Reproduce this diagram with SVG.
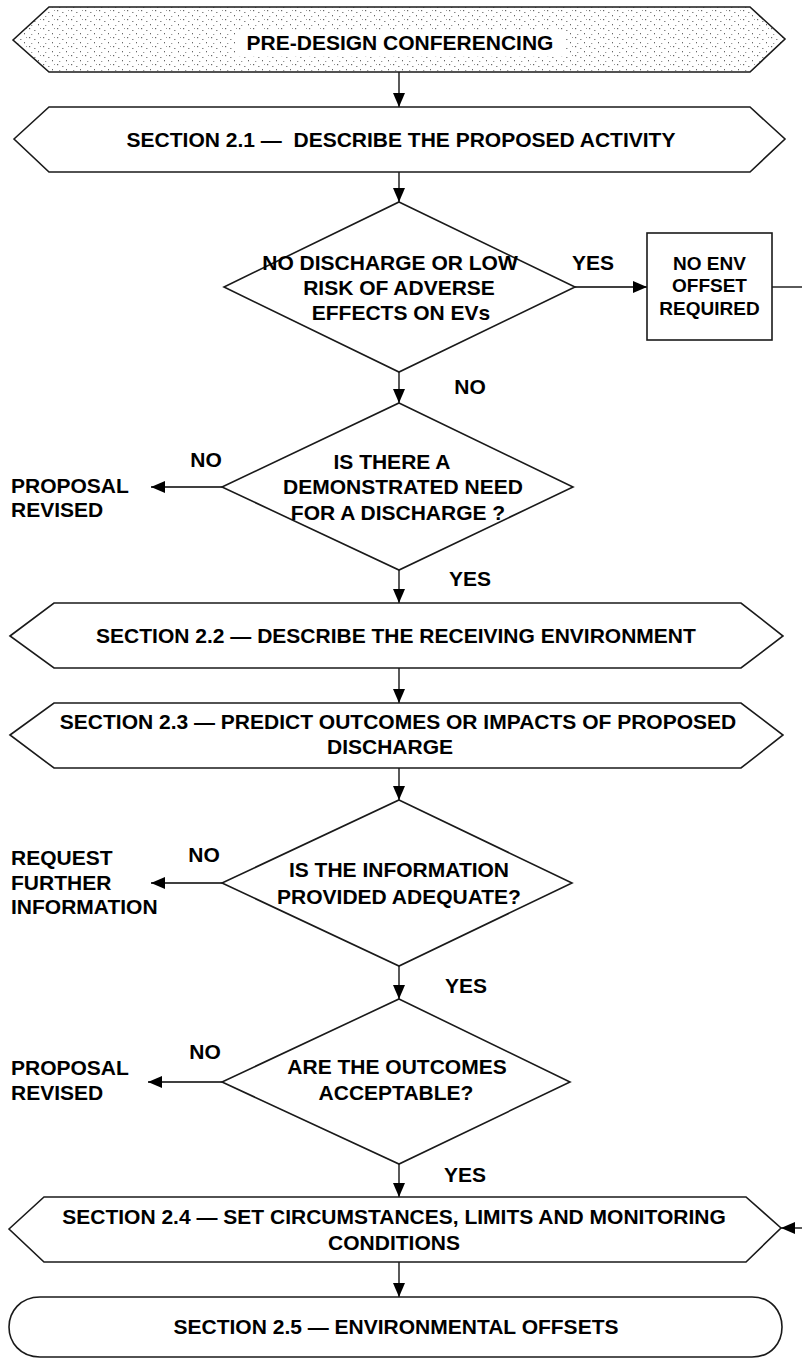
<svg xmlns="http://www.w3.org/2000/svg" width="802" height="1359" viewBox="0 0 802 1359">
<style>
.shape{fill:#fff;stroke:#1a1a1a;stroke-width:1.6}
.conn{fill:none;stroke:#000;stroke-width:1.3}
text{font-family:"Liberation Sans",Arial,sans-serif;font-weight:bold;font-size:21px;fill:#000}
.c{text-anchor:middle}
.s{font-size:19px}
</style>
<defs>
<pattern id="speckle" width="14" height="9" patternUnits="userSpaceOnUse">
<rect width="14" height="9" fill="#fff"/>
<rect x="1" y="1" width="1.2" height="1.2" fill="#666"/>
<rect x="6" y="3" width="1.5" height="1" fill="#888"/>
<rect x="10" y="6" width="1" height="1.3" fill="#666"/>
<rect x="3" y="7" width="1.3" height="1" fill="#999"/>
<rect x="12" y="1" width="1" height="1" fill="#999"/>
</pattern>
<marker id="ah" markerWidth="14" markerHeight="12" refX="14" refY="6" orient="auto" markerUnits="userSpaceOnUse">
<path d="M0,0 L14,6 L0,12 Z" fill="#000"/>
</marker>
</defs>

<g id="connectors">
<line class="conn" x1="399" y1="72" x2="399" y2="107" marker-end="url(#ah)"/>
<line class="conn" x1="399" y1="172" x2="399" y2="202" marker-end="url(#ah)"/>
<line class="conn" x1="575" y1="287" x2="647" y2="287" marker-end="url(#ah)"/>
<line class="conn" x1="772" y1="287" x2="802" y2="287"/>
<line class="conn" x1="399" y1="372" x2="399" y2="403" marker-end="url(#ah)"/>
<line class="conn" x1="222" y1="487" x2="151" y2="487" marker-end="url(#ah)"/>
<line class="conn" x1="399" y1="570" x2="399" y2="603" marker-end="url(#ah)"/>
<line class="conn" x1="399" y1="668" x2="399" y2="703" marker-end="url(#ah)"/>
<line class="conn" x1="399" y1="768" x2="399" y2="800" marker-end="url(#ah)"/>
<line class="conn" x1="222" y1="883" x2="151" y2="883" marker-end="url(#ah)"/>
<line class="conn" x1="399" y1="966" x2="399" y2="999" marker-end="url(#ah)"/>
<line class="conn" x1="222" y1="1082" x2="148" y2="1082" marker-end="url(#ah)"/>
<line class="conn" x1="399" y1="1164" x2="399" y2="1197" marker-end="url(#ah)"/>
<line class="conn" x1="399" y1="1262" x2="399" y2="1297" marker-end="url(#ah)"/>
<line class="conn" x1="802" y1="1228" x2="781" y2="1228" marker-end="url(#ah)"/>
</g>

<g id="predesign">
<path class="shape" style="fill:url(#speckle)" d="M13,40 L49,7 L750,7 L785,39 L750,72 L49,72 Z"/>
<rect x="235" y="30" width="330" height="26" fill="#fff"/>
<text class="c" x="400" y="50">PRE-DESIGN CONFERENCING</text>
</g>

<g id="s21">
<path class="shape" d="M14,139 L49,107 L750,107 L785,139 L750,172 L49,172 Z"/>
<text class="c" x="401" y="147" xml:space="preserve">SECTION 2.1 —  DESCRIBE THE PROPOSED ACTIVITY</text>
</g>

<g id="d1">
<path class="shape" d="M399,202 L575,287 L399,372 L224,287 Z"/>
<text class="c" x="390" y="270">NO DISCHARGE OR LOW</text>
<text class="c" x="399" y="295">RISK OF ADVERSE</text>
<text class="c" x="401" y="320">EFFECTS ON EVs</text>
</g>
<g id="d1-labels">
<text class="c" x="593" y="270">YES</text>
<text class="c" x="470" y="394">NO</text>
</g>

<g id="nooffset">
<rect class="shape" x="647" y="233" width="125" height="107"/>
<text class="c s" x="709.5" y="270">NO ENV</text>
<text class="c s" x="709.5" y="292">OFFSET</text>
<text class="c s" x="709.5" y="315">REQUIRED</text>
</g>

<g id="d2">
<path class="shape" d="M399,403 L573,487 L399,570 L222,487 Z"/>
<text class="c" x="392" y="469">IS THERE A</text>
<text class="c" x="403" y="494">DEMONSTRATED NEED</text>
<text class="c" x="398" y="520">FOR A DISCHARGE ?</text>
</g>
<g id="d2-labels">
<text class="c" x="206" y="467">NO</text>
<text class="c" x="470" y="586">YES</text>
</g>
<g id="revised1">
<text x="11" y="493">PROPOSAL</text>
<text x="11" y="517">REVISED</text>
</g>

<g id="s22">
<path class="shape" d="M10,636 L54,603 L741,603 L783,636 L741,668 L54,668 Z"/>
<text class="c" x="396" y="643">SECTION 2.2 — DESCRIBE THE RECEIVING ENVIRONMENT</text>
</g>

<g id="s23">
<path class="shape" d="M10,735 L54,703 L741,703 L783,735 L741,768 L54,768 Z"/>
<text class="c" x="398" y="729">SECTION 2.3 — PREDICT OUTCOMES OR IMPACTS OF PROPOSED</text>
<text class="c" x="390" y="754">DISCHARGE</text>
</g>

<g id="d3">
<path class="shape" d="M399,800 L572,883 L399,966 L222,883 Z"/>
<text class="c" x="399" y="877">IS THE INFORMATION</text>
<text class="c" x="399" y="904">PROVIDED ADEQUATE?</text>
</g>
<g id="d3-labels">
<text class="c" x="204" y="862">NO</text>
<text class="c" x="466" y="993">YES</text>
</g>
<g id="request">
<text x="11" y="865">REQUEST</text>
<text x="11" y="890">FURTHER</text>
<text x="11" y="914">INFORMATION</text>
</g>

<g id="d4">
<path class="shape" d="M399,999 L570,1082 L399,1164 L222,1082 Z"/>
<text class="c" x="397" y="1074">ARE THE OUTCOMES</text>
<text class="c" x="396" y="1100">ACCEPTABLE?</text>
</g>
<g id="d4-labels">
<text class="c" x="205" y="1059">NO</text>
<text class="c" x="465" y="1182">YES</text>
</g>
<g id="revised2">
<text x="11" y="1075">PROPOSAL</text>
<text x="11" y="1100">REVISED</text>
</g>

<g id="s24">
<path class="shape" d="M9,1229 L44,1197 L746,1197 L781,1228 L746,1262 L44,1262 Z"/>
<text class="c" x="394" y="1224">SECTION 2.4 — SET CIRCUMSTANCES, LIMITS AND MONITORING</text>
<text class="c" x="394" y="1250">CONDITIONS</text>
</g>

<g id="s25">
<path class="shape" d="M40,1297 L752,1297 C772,1297 782,1312 782,1327 C782,1342 772,1357 752,1357 L40,1357 C20,1357 9,1342 9,1327 C9,1312 20,1297 40,1297 Z"/>
<text class="c" x="396" y="1334">SECTION 2.5 — ENVIRONMENTAL OFFSETS</text>
</g>
</svg>
